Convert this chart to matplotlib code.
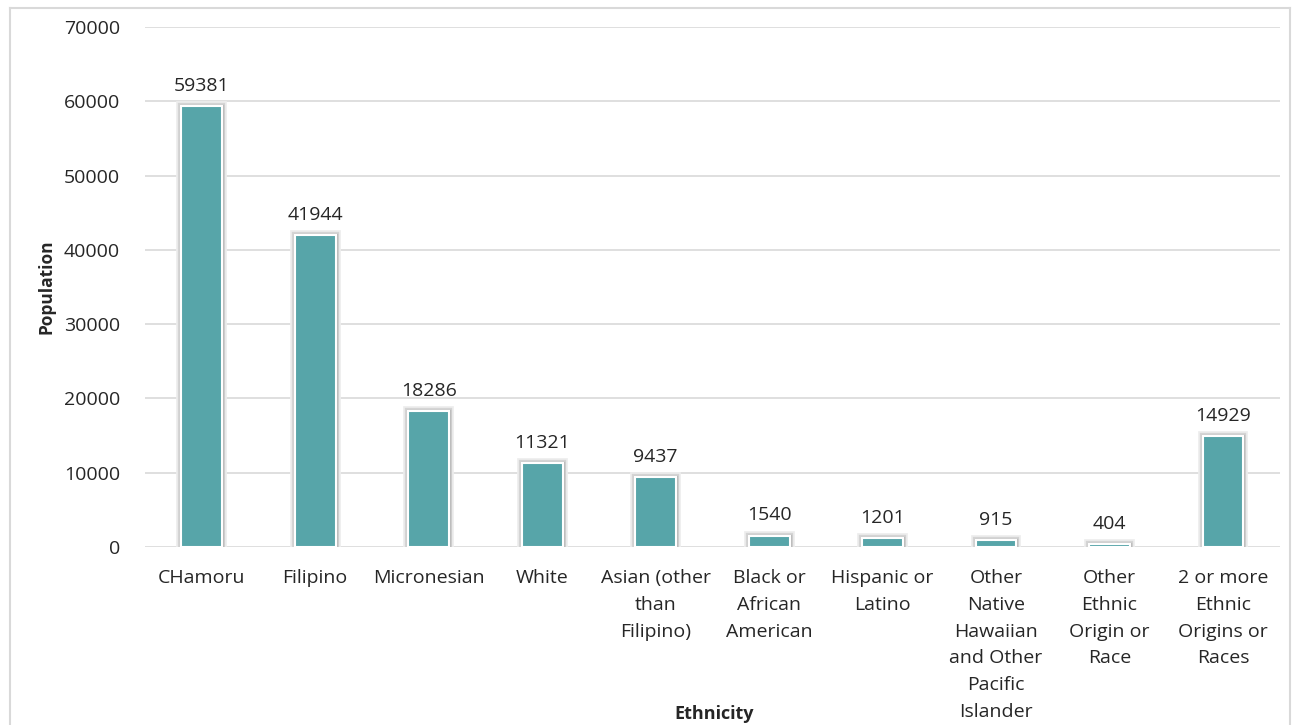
import numpy as np
import matplotlib
matplotlib.use("Agg")
import matplotlib.pyplot as plt
import matplotlib.patheffects as pe
from matplotlib.lines import Line2D

categories = ["CHamoru", "Filipino", "Micronesian", "White", "Asian (other\nthan\nFilipino)",
              "Black or\nAfrican\nAmerican", "Hispanic or\nLatino",
              "Other\nNative\nHawaiian\nand Other\nPacific\nIslander",
              "Other\nEthnic\nOrigin or\nRace", "2 or more\nEthnic\nOrigins or\nRaces"]
population = [59381, 41944, 18286, 11321, 9437, 1540, 1201, 915, 404, 14929]
yticks = [0, 10000, 20000, 30000, 40000, 50000, 60000, 70000]

plt.rcParams['font.family'] = ['Open Sans', 'DejaVu Sans']

fig = plt.figure(figsize=(12.94, 7.25), dpi=100)
ax = fig.add_axes([0.112, 0.2455, 0.877, 0.7173])

x = np.arange(len(categories))
bars = ax.bar(x, population, width=0.36, color='#57a5a9', edgecolor='white', linewidth=1.5, zorder=3)
for b in bars:
    # soft glow around each bar
    b.set_path_effects([pe.Stroke(linewidth=7, foreground='#ededed'),
                        pe.Stroke(linewidth=4.5, foreground='#d4d4d4'),
                        pe.Stroke(linewidth=2.5, foreground='#b8b8b8'),
                        pe.Stroke(linewidth=1.5, foreground='white'),
                        pe.Normal()])

for xi, v in zip(x, population):
    ax.annotate(str(v), (xi, v), xytext=(0, 8), textcoords='offset points',
                ha='center', va='bottom', fontsize=14, color='#262626')

ax.set_xlim(-0.5, len(categories) - 0.5)
ax.set_ylim(0, 70000)
ax.set_yticks(yticks)
ax.set_yticklabels([str(t) for t in yticks])
ax.set_xticks(x)
ax.set_xticklabels(categories, linespacing=1.62)
ax.tick_params(axis='both', length=0, labelsize=14, labelcolor='#262626')
ax.tick_params(axis='y', pad=18)
ax.tick_params(axis='x', pad=16)
ax.grid(axis='y', color='#d9d9d9', linewidth=1.2, zorder=0)
for s in ax.spines.values():
    s.set_visible(False)

ax.set_ylabel("Population", fontsize=12.5, fontweight='bold', color='#262626', labelpad=6)
fig.text(0.552, 0.003, "Ethnicity", fontsize=13, fontweight='bold', color='#262626', ha='center', va='bottom')

# outer chart border
for xs, ys in [([0.008, 0.008], [0, 0.989]), ([0.008, 0.997], [0.989, 0.989]), ([0.997, 0.997], [0, 0.989])]:
    fig.add_artist(Line2D(xs, ys, color='#d9d9d9', linewidth=1.5, transform=fig.transFigure))

fig.savefig("out.png", dpi=100, facecolor='white')
